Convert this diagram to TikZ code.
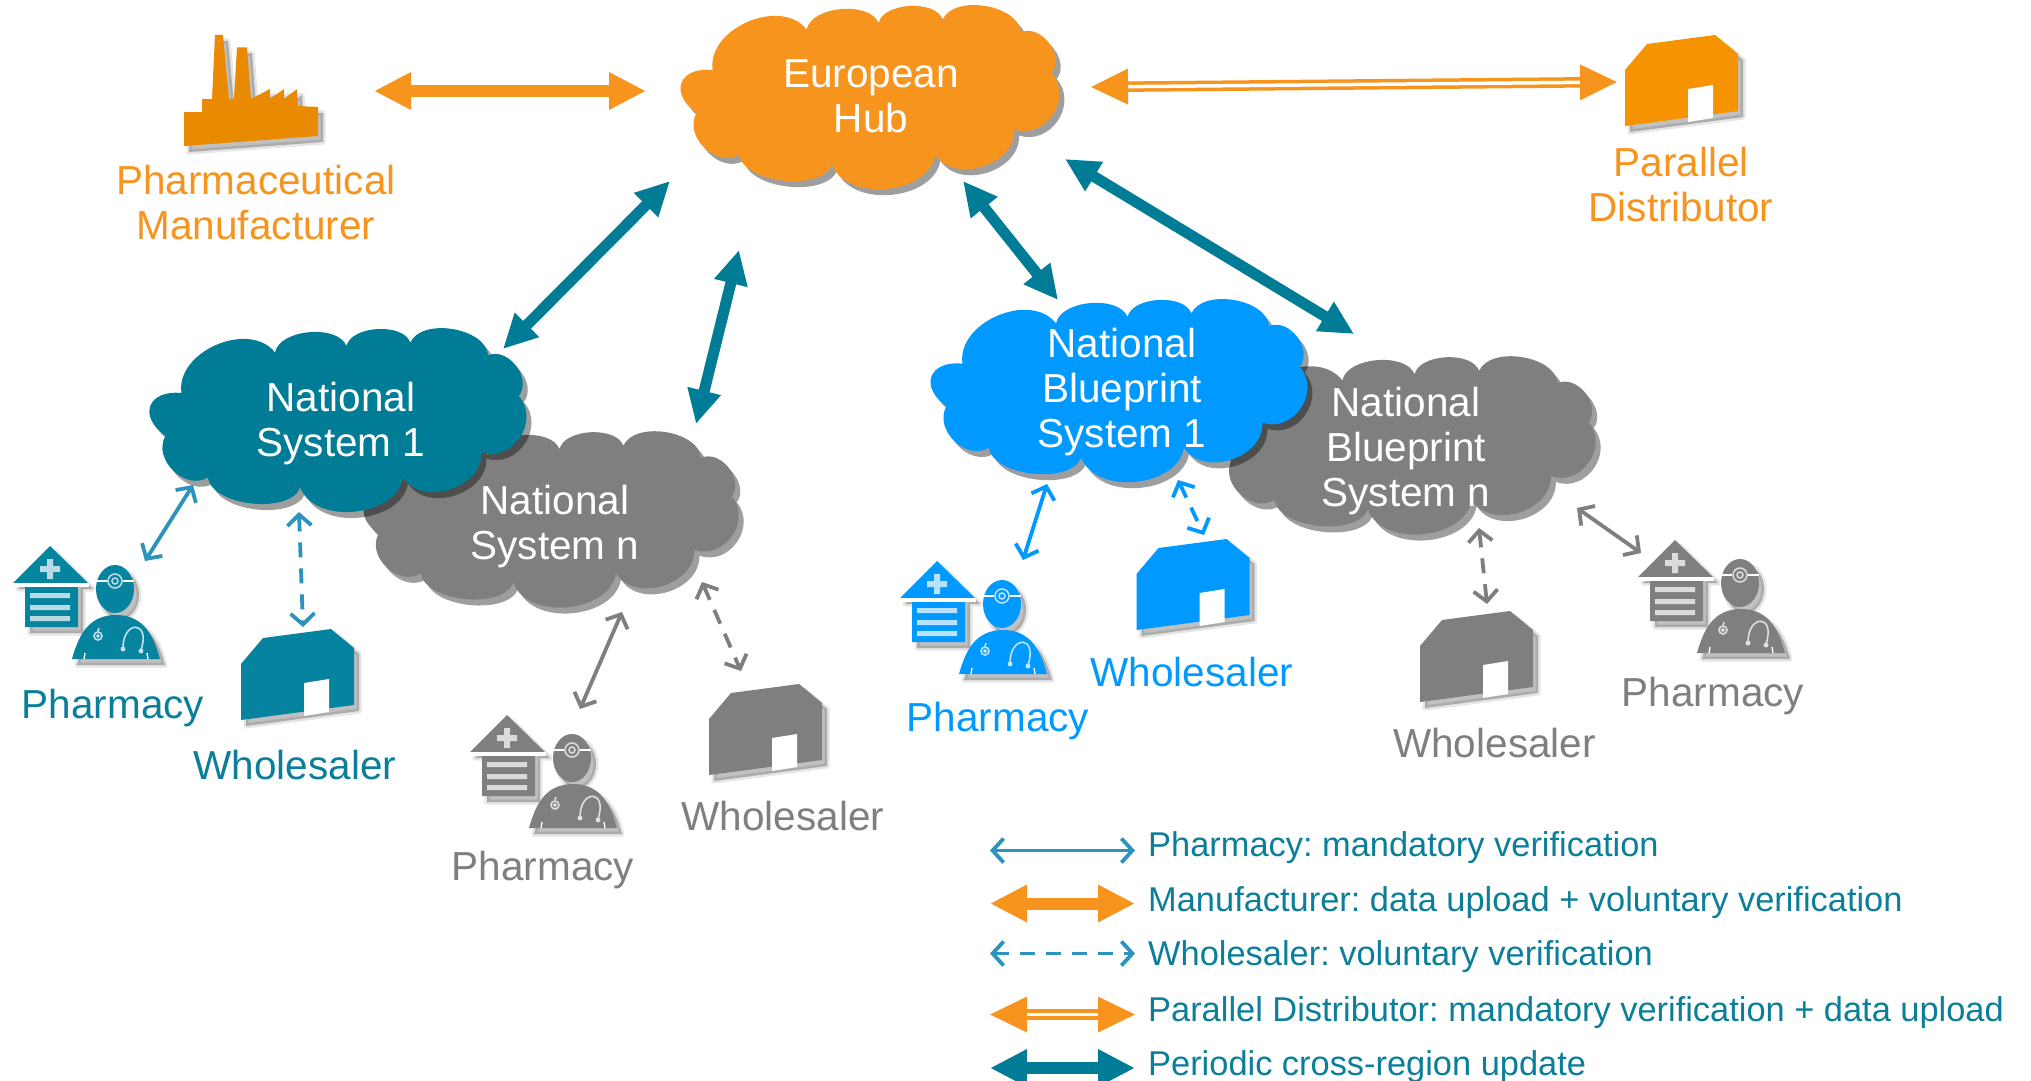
\documentclass[tikz,border=0pt]{standalone}
\usepackage{fontspec}
\setmainfont{Liberation Sans}
\usetikzlibrary{arrows.meta}
\definecolor{tealc}{HTML}{007C96}
\definecolor{tealt}{HTML}{0B7F99}
\definecolor{iconteal}{HTML}{05839F}
\definecolor{orangec}{HTML}{F7941E}
\definecolor{factoryc}{HTML}{EA8A00}
\definecolor{shedc}{HTML}{F59300}
\definecolor{bluec}{HTML}{0099FF}
\definecolor{grayc}{HTML}{7F7F7F}
\definecolor{thinc}{HTML}{2C93BF}
\tikzset{
  x=1pt,y=-1pt,
  lab/.style={font=\fontsize{40.5}{45}\selectfont,align=center,inner sep=0pt},
  cloudtext/.style={lab,text=white},
  legtext/.style={font=\fontsize{34.4}{38}\selectfont\frenchspacing,text=tealt,anchor=west,inner sep=0pt},
  bump/.style={bend left=75,looseness=#1},
  bigarrow/.style={line width=11pt,tealc,{Triangle[length=34pt,width=32pt]}-{Triangle[length=34pt,width=32pt]}},
  mfrarrow/.style={line width=12pt,orangec,{Triangle[length=37pt,width=35pt]}-{Triangle[length=37pt,width=35pt]}},
  pararrow/.style={line width=3.5pt,double=white,double distance=3.5pt,draw=orangec,{Triangle[length=37pt,width=35pt]}-{Triangle[length=37pt,width=35pt]}},
  thin/.style={line width=3.8pt,#1,{Straight Barb[length=11pt,width=24pt,line width=3.8pt]}-{Straight Barb[length=11pt,width=24pt,line width=3.8pt]}},
  thindash/.style={thin=#1,dash pattern=on 15pt off 11pt},
}
\def\cloudpath{(.085,.35) to[bump=1.05] (.33,.125) to[bump=.85] (.517,.09) to[bump=.85] (.684,.07) to[bump=.9] (.888,.14) to[bump=1.1] (.968,.367) to[bump=1.25] (.87,.68) to[bump=1.1] (.665,.82) to[bump=1.0] (.396,.875) to[bump=.8] (.154,.82) to[bump=1.15] (.043,.588) to[bump=1.9] (.085,.35) -- cycle}
\newcommand{\cloudbg}[5]{%
  \begin{scope}[shift={(#1,#2)},x=#3pt,y=-#4pt]
    \fill[black,opacity=.38,xshift=5pt,yshift=-6pt] \cloudpath;
    \fill[#5] \cloudpath;
  \end{scope}}
\newcommand{\softshadow}[1]{%
  \fill[black,opacity=.10,xshift=5pt,yshift=-6pt,draw=black,line width=5pt,line join=round] #1;
  \fill[black,opacity=.16,xshift=5pt,yshift=-6pt] #1;}
\newcommand{\wholes}[3]{%
  \begin{scope}[shift={(#1,#2)}]
    \def\p{(0,91) -- (0,35) -- (22,9) -- (90,0) -- (113,19) -- (113,76) -- cycle}
    \softshadow{\p}
    \fill[#3] \p;
    \fill[white] (63,54) -- (88,50) -- (88,83) -- (63,87) -- cycle;
  \end{scope}}
\newcommand{\pharm}[3]{%
  \begin{scope}[shift={(#1,#2)}]
    \def\pa{(37,0) -- (75,37) -- (65,37) -- (65,81) -- (12,81) -- (12,37) -- (0,37) -- cycle}
    \def\pb{(59,113) .. controls (65,92) and (74,69) .. (103,69) .. controls (132,69) and (141,92) .. (147,113) -- cycle}
    \def\pc{(102,43) ellipse [x radius=19pt,y radius=24pt]}
    \softshadow{\pa}
    \softshadow{\pb}
    \softshadow{\pc}
    \fill[#3] \pa;
    \fill[white] (-1,37) rectangle (76,40.5);
    \fill[white!72!#3] (17,47) rectangle (57,52) (17,59) rectangle (57,64) (17,70) rectangle (57,75);
    \fill[white!72!#3] (34,13) rectangle (40,33) (27,20) rectangle (47,26);
    \fill[#3] \pb;
    \fill[#3] \pc;
    \draw[white,line width=2pt] (83,35) -- (121,35);
    \fill[#3] (102,35) circle (8pt);
    \draw[white!70!#3,line width=1.6pt] (102,35) circle (7pt) (102,35) circle (3pt);
    \draw[white!75!#3,line width=1.6pt] (86,82) -- (85,85) (85,90) circle (4pt) (85,90) circle (1pt);
    \draw[white!75!#3,line width=1.6pt] (110,102) .. controls (110,74) and (138,74) .. (128,104);
    \fill[white!75!#3] (110,103) circle (2.5pt) (128,105) circle (2.5pt);
    \draw[white,line width=1.4pt] (72,107) -- (71,113) (134,107) -- (135,113);
  \end{scope}}
\begin{document}
\begin{tikzpicture}
\path[use as bounding box,fill=white] (0,0) rectangle (2031,1081);
% factory
\def\factorypath{(184,146) -- (184,112) -- (202,112) -- (202,99) -- (212,99) -- (215,35) -- (223,35) -- (229,99) -- (234,99) -- (237,47.5) -- (247,47.5) -- (251,99) -- (270,89) -- (270,99) -- (284,89) -- (284,99) -- (297,89) -- (298,106) -- (318,107) -- (318,136) -- cycle}
\softshadow{\factorypath}
\fill[factoryc] \factorypath;
\node[lab,text=orangec] (mfr) at (256,203) {Pharmaceutical\\Manufacturer};
% distributor
\wholes{1625}{35}{shedc}
\node[lab,text=orangec] (dist) at (1681,185) {Parallel\\Distributor};
% clouds
\cloudbg{680}{7}{384}{180}{orangec}
\node[cloudtext] (hub) at (871,96) {European\\Hub};
\cloudbg{362}{434}{382}{170}{grayc}
\node[cloudtext] (nsn) at (555,527) {National\\System n};
\cloudbg{149}{330}{382}{180}{tealc}
\node[cloudtext] (nsone) at (341,424) {National\\System 1};
\cloudbg{1215}{359}{386}{172}{grayc}
\node[cloudtext] (nbn) at (1406,451) {National\\Blueprint\\System n};
\cloudbg{930}{301}{382}{179}{bluec}
\node[cloudtext] (nbone) at (1122,392) {National\\Blueprint\\System 1};
% icons
\pharm{13}{546}{iconteal}
\node[lab,text=tealt] (ph1) at (113,708.5) {Pharmacy};
\wholes{241}{629}{iconteal}
\node[lab,text=tealt] (wh1) at (295,765) {Wholesaler};
\pharm{470}{715}{grayc}
\node[lab,text=grayc] (ph2) at (543,870) {Pharmacy};
\wholes{709}{684}{grayc}
\node[lab,text=grayc] (wh2) at (783,816) {Wholesaler};
\pharm{900}{561}{bluec}
\node[lab,text=bluec] (ph3) at (998,721) {Pharmacy};
\wholes{1136.5}{539}{bluec}
\node[lab,text=bluec] (wh3) at (1192,672) {Wholesaler};
\wholes{1420}{611}{grayc}
\node[lab,text=grayc] (wh4) at (1494.5,743) {Wholesaler};
\pharm{1638}{540}{grayc}
\node[lab,text=grayc] (ph4) at (1713,696) {Pharmacy};
% connector ends
\coordinate (mfrE) at (374,91);   \coordinate (hubW) at (646,91);
\coordinate (hubE) at (1091,87);  \coordinate (distW) at (1617,82);
\coordinate (hubA) at (670,181);  \coordinate (nsoneA) at (503,349);
\coordinate (hubB) at (739,250);  \coordinate (nsnB) at (696,424);
\coordinate (hubC) at (963,181);  \coordinate (nboneC) at (1058,300);
\coordinate (hubD) at (1065,159); \coordinate (nbnD) at (1354,334);
\coordinate (a1) at (193,485); \coordinate (a2) at (145,561);
\coordinate (b1) at (299,512); \coordinate (b2) at (303,627);
\coordinate (c1) at (622,612); \coordinate (c2) at (580,709);
\coordinate (d1) at (702,582); \coordinate (d2) at (741,671);
\coordinate (e1) at (1047,484); \coordinate (e2) at (1023,560);
\coordinate (f1) at (1178,480); \coordinate (f2) at (1204,535);
\coordinate (g1) at (1479,528); \coordinate (g2) at (1487,604);
\coordinate (h1) at (1577,508); \coordinate (h2) at (1641,553);
% connectors
\draw[mfrarrow] (mfrE) -- (hubW);
\draw[pararrow] (hubE) -- (distW);
\draw[bigarrow] (hubA) -- (nsoneA);
\draw[bigarrow] (hubB) -- (nsnB);
\draw[bigarrow] (hubC) -- (nboneC);
\draw[bigarrow] (hubD) -- (nbnD);
\draw[thin=thinc] (a1) -- (a2);
\draw[thindash=thinc] (b1) -- (b2);
\draw[thin=grayc] (c1) -- (c2);
\draw[thindash=grayc] (d1) -- (d2);
\draw[thin=bluec] (e1) -- (e2);
\draw[thindash=bluec] (f1) -- (f2);
\draw[thindash=grayc] (g1) -- (g2);
\draw[thin=grayc] (h1) -- (h2);
% legend
\node[legtext] (l1) at (1148,848) {Pharmacy: mandatory verification};
\node[legtext] (l2) at (1148,903) {Manufacturer: data upload + voluntary verification};
\node[legtext] (l3) at (1148,957) {Wholesaler: voluntary verification};
\node[legtext] (l4) at (1148,1013) {Parallel Distributor: mandatory verification + data upload};
\node[legtext] (l5) at (1148,1067) {Periodic cross-region update};
\coordinate (k1a) at (990,850.5); \coordinate (k1b) at (1135,850.5);
\coordinate (k2a) at (990,903.5); \coordinate (k2b) at (1135,903.5);
\coordinate (k3a) at (990,953.5); \coordinate (k3b) at (1135,953.5);
\coordinate (k4a) at (990,1014.5); \coordinate (k4b) at (1135,1014.5);
\coordinate (k5a) at (990,1068); \coordinate (k5b) at (1135,1068);
\draw[thin=thinc] (k1a) -- (k1b);
\draw[mfrarrow] (k2a) -- (k2b);
\draw[thindash=thinc] (k3a) -- (k3b);
\draw[pararrow] (k4a) -- (k4b);
\draw[line width=12pt,tealc,{Triangle[length=37pt,width=35pt]}-{Triangle[length=37pt,width=35pt]}] (k5a) -- (k5b);
\end{tikzpicture}
\end{document}
